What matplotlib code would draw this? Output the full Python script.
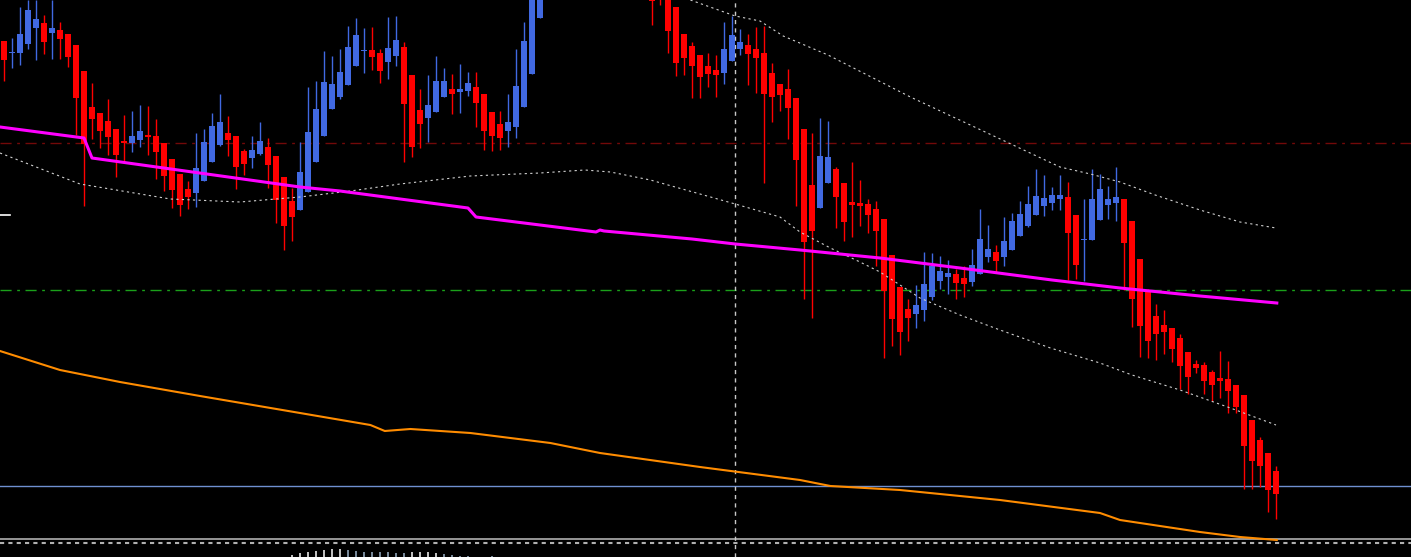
import matplotlib
matplotlib.use("Agg")
import matplotlib.pyplot as plt
import numpy as np

# candle OHLC in chart units (screen-like price scale, larger = lower)
opens = [41,52,53,44,28,23,33,30,34,45,71,107,113,121,129,141,143,140,135,136,
         143,159,174,189,193,181,162,145,133,136,151,158,154,147,156,177,201,210,192,162,
         136,109,97,85,66,50,50,53,62,56,47,75,110,118,112,97,89,92,91,87,
         94,112,124,131,127,107,74,18,-30,-50,-60,-45,-40,-55,-50,-35,-30,-40,-25,-20,
         -15,-12,-10,-5,7,34,46,55,66,70,73,61,49,45,49,53,73,84,89,98,
         129,185,208,183,169,183,202,203,204,209,219,255,287,309,314,310,297,281,277,274,
         278,282,274,257,252,257,250,236,226,215,206,203,199,197,215,239,240,220,205,203,
         199,221,259,292,316,325,328,338,352,364,365,372,378,379,385,395,420,440,453,471]
closes = [60,52,34,10,19,42,28,39,57,98,144,119,131,137,155,143,136,131,137,152,
          176,190,205,197,168,142,126,122,140,167,164,150,141,165,200,226,217,172,132,109,
          82,84,72,47,35,50,57,71,48,40,104,147,124,105,81,81,94,89,83,103,
          131,136,138,122,86,41,-20,-40,-55,-45,-50,-38,-52,-48,-40,-28,-38,-30,-22,-18,
          -8,1,-5,31,63,58,66,77,74,75,49,35,42,54,58,94,97,95,108,160,
          242,231,156,157,197,222,205,206,215,231,291,319,332,318,305,284,266,271,273,283,
          284,265,239,249,261,241,221,214,204,196,198,195,195,233,265,239,199,189,199,197,
          243,299,326,341,334,332,349,366,377,368,381,385,381,391,407,446,461,466,490,494]
highs = [41,38,7,0,0,15,0,22,34,45,71,83,113,99,129,115,111,105,106,119,
         143,159,174,181,133,129,113,94,116,136,149,136,122,138,156,177,188,142,87,81,
         51,56,49,26,18,28,27,49,17,16,42,75,89,75,56,68,74,64,72,72,
         94,112,111,94,49,22,-30,-48,-65,-55,-58,-48,-60,-58,-50,-40,-45,-38,-30,-25,
         -20,-15,-12,-8,7,34,42,55,53,55,22,16,29,34,27,26,63,84,69,98,
         129,133,118,121,167,183,162,180,199,201,219,255,287,299,285,252,253,256,260,269,
         266,249,209,225,245,217,213,201,186,169,175,187,175,182,215,199,169,174,186,167,
         199,221,259,289,304,310,328,334,352,360,362,370,351,361,385,395,420,437,453,466]
lows = [81,68,65,49,60,54,59,59,67,135,206,139,148,155,177,161,152,147,155,179,
        191,208,216,209,207,181,162,146,156,189,175,168,155,188,223,250,241,210,192,162,
        136,109,99,85,66,73,70,83,79,66,162,157,148,142,112,97,114,113,96,127,
        150,151,150,147,138,107,74,18,-25,-35,-40,-30,-35,-40,-30,-20,-20,-25,-15,-10,
        -5,25,5,53,76,75,98,98,87,97,84,61,55,85,93,183,122,111,139,206,
        299,318,208,183,228,241,237,226,233,266,358,346,355,341,328,321,300,289,294,299,
        297,286,274,262,272,266,250,236,227,215,216,210,210,280,279,281,240,220,219,221,
        290,327,357,358,360,354,362,389,394,373,394,401,398,413,413,489,489,487,512,519]

# indicator lines (x in candle index units, y in chart units)
ma_x = [-0.5, 10, 11, 37, 42, 58, 59, 74, 74.5, 75, 86, 91.4, 99.5, 109.5, 119.5, 131, 139.5, 149.5, 159.1]
ma_y = [127, 138, 158, 187, 191, 208, 217, 232, 230, 231, 239, 244, 250, 258, 268, 280, 288, 296, 303]
mid_x = [-0.5, 9.5, 20.8, 29.5, 37, 43.3, 49.5, 58.3, 67, 72.6, 75.8, 80.8, 87, 91.4, 97, 99.5, 103.3, 107, 109.5, 114.5, 119.5, 124.5, 130.8, 137, 141, 147, 153.3, 159]
mid_y = [153, 184, 199, 202, 197, 191, 184, 176, 173, 170, 172, 180, 194, 204, 217, 232, 248, 262, 272, 298, 315, 330, 348, 363, 375, 390, 408, 425]
up_x = [85.8, 91.4, 94.5, 97.4, 103, 113.3, 132, 135.8, 139.5, 143.9, 149.5, 154.5, 159]
up_y = [0, 16, 21, 36, 55, 97, 167, 174, 182, 195, 210, 222, 228]
org_x = [-0.5, 7, 14.5, 24.5, 37, 45.8, 47.6, 50.8, 58.3, 68.3, 74.5, 87, 99.5, 103.3, 112, 124.5, 137, 139.5, 149.5, 154.5, 159.1]
org_y = [351, 370, 382, 396, 413, 425, 431, 429, 433, 443, 453, 467, 480, 486, 490, 500, 513, 520, 532, 537, 540]
hist_x = list(range(36, 62))
hist_h = [2, 4, 5, 6, 7, 8, 8, 7, 6, 5, 5, 5, 5, 4, 4, 5, 5, 5, 4, 3, 2, 1, 1, 0, 0, 1]

fig = plt.figure(figsize=(14.11, 5.57), dpi=100, facecolor="black")
ax = fig.add_axes([0, 0, 1, 1], facecolor="black")
ax.set_xlim(-0.5, 1411 / 8 - 0.5)
ax.set_ylim(557, 0)
ax.axis("off")

# horizontal levels
ax.axhline(143, color="#c01010", lw=1, ls=(0, (8, 4, 2, 4)), alpha=0.6)
ax.axhline(290, color="#1aa01a", lw=1, ls=(0, (8, 4, 2, 4)))
ax.axhline(486, color="#6f8fd0", lw=1)
ax.axhline(539, color="#b0b0b0", lw=1.2)
ax.axhline(542.5, color="#b0b0b0", lw=1.5, ls=(0, (2, 2)))
ax.axvline(91.4, color="#c8c8c8", lw=1, ls=(0, (3, 3)))
ax.plot([-0.5, 0.8], [215, 215], color="white", lw=1.2)

for i, (o, c, h, l) in enumerate(zip(opens, closes, highs, lows)):
    col = "#ff0000" if c > o else "#4169e1"
    ax.plot([i, i], [h, l], color=col, lw=1, solid_capstyle="butt", zorder=3)
    body = max(abs(c - o), 1.2)
    ax.bar(i, body, bottom=min(o, c), width=0.65, color=col, zorder=3)

ax.plot(mid_x, mid_y, color="#d0d0d0", lw=0.8, ls=(0, (2, 3)), zorder=4)
ax.plot(up_x, up_y, color="#d0d0d0", lw=0.8, ls=(0, (2, 3)), zorder=4)
ax.plot(ma_x, ma_y, color="#ff00ff", lw=2.2, zorder=5)
ax.plot(org_x, org_y, color="#ff8c00", lw=1.5, zorder=5)

hcols = ["#c0c0c0"] * 7 + ["#778899"] * 8 + ["#c0c0c0"] * 4 + ["#778899"] * 7
ax.bar(hist_x, hist_h, bottom=557 - np.array(hist_h), width=0.35, color=hcols)

fig.savefig("out.png", dpi=100, facecolor="black")
